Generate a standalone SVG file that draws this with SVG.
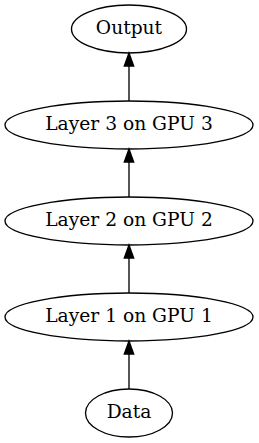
<svg xmlns="http://www.w3.org/2000/svg" width="259" height="443" viewBox="0 0 259 443">
<style>
.n ellipse{fill:none;stroke:#000;stroke-width:1.33}
.n text{font-family:"DejaVu Serif","Liberation Serif",serif;font-size:18.67px;text-anchor:middle;fill:#000}
.e line{stroke:#000;stroke-width:1.33}
.e polygon{fill:#000;stroke:#000;stroke-width:1.33}
</style>
<rect width="259" height="443" fill="#fff"/>
<g id="output" class="n"><ellipse cx="129" cy="29" rx="57.5" ry="24"/><text x="129" y="34">Output</text></g>
<g id="layer3" class="n"><ellipse cx="129" cy="125" rx="124" ry="24"/><text x="129" y="130">Layer 3 on GPU 3</text></g>
<g id="layer2" class="n"><ellipse cx="129" cy="221" rx="124" ry="24"/><text x="129" y="226">Layer 2 on GPU 2</text></g>
<g id="layer1" class="n"><ellipse cx="129" cy="317" rx="124" ry="24"/><text x="129" y="322">Layer 1 on GPU 1</text></g>
<g id="data" class="n"><ellipse cx="129" cy="413" rx="43.5" ry="24"/><text x="129" y="418">Data</text></g>
<g id="edges" class="e">
<line x1="129" y1="389" x2="129" y2="354"/><polygon points="124.3,354 129,341 133.7,354"/>
<line x1="129" y1="293" x2="129" y2="258"/><polygon points="124.3,258 129,245 133.7,258"/>
<line x1="129" y1="197" x2="129" y2="162"/><polygon points="124.3,162 129,149 133.7,162"/>
<line x1="129" y1="101" x2="129" y2="66"/><polygon points="124.3,66 129,53 133.7,66"/>
</g>
</svg>
